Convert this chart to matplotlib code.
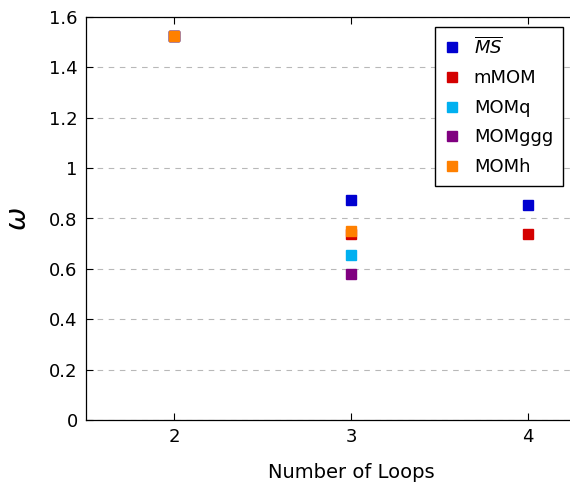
import numpy as np
import matplotlib
matplotlib.use("Agg")
import matplotlib.pyplot as plt

loops = [2, 3, 4]
series_names = [r'$\overline{MS}$', 'mMOM', 'MOMq', 'MOMggg', 'MOMh']
ms_vals = [1.525, 0.873, 0.855]
mmom_vals = [1.525, 0.737, 0.737]
momq_vals = [1.525, 0.655, np.nan]
momggg_vals = [1.525, 0.580, np.nan]
momh_vals = [1.525, 0.750, np.nan]
colors = ['#0000d0', '#d40000', '#00b0f0', '#800080', '#ff8000']

yticks = [0, 0.2, 0.4, 0.6, 0.8, 1.0, 1.2, 1.4, 1.6]
ytick_labels = ['0', '0.2', '0.4', '0.6', '0.8', '1', '1.2', '1.4', '1.6']
xticks = [2, 3, 4]

plt.rcParams['font.family'] = ['DejaVu Sans']
plt.rcParams['mathtext.fontset'] = 'dejavusans'

fig = plt.figure(figsize=(5.7, 4.86), dpi=100)
ax = fig.add_axes([86/570, 66/486, 530/570, 403/486])

all_vals = [ms_vals, mmom_vals, momq_vals, momggg_vals, momh_vals]
for name, vals, c in zip(series_names, all_vals, colors):
    ax.plot(loops, vals, linestyle='none', marker='s', markersize=7,
            color=c, markeredgecolor=c, label=name, zorder=3)

ax.set_xlim(1.5, 4.5)
ax.set_ylim(0, 1.6)
ax.set_yticks(yticks)
ax.set_yticklabels(ytick_labels)
ax.set_xticks(xticks)
ax.tick_params(direction='in', top=True, right=True, labelsize=13, length=5, width=0.8, pad=6)
ax.yaxis.grid(True, linestyle=(0, (5, 5)), color='#b8b8b8', linewidth=0.8)
ax.set_axisbelow(True)
for s in ax.spines.values():
    s.set_linewidth(0.9)

ax.set_xlabel('Number of Loops', fontsize=14, labelpad=12)
ax.set_ylabel(r'$\omega$', fontsize=20, labelpad=12)

leg = ax.legend(loc='upper right', bbox_to_anchor=(0.9, 0.975), borderaxespad=0,
                fancybox=False, edgecolor='black', fontsize=13, handlelength=0.8,
                handletextpad=0.8, labelspacing=0.64, borderpad=0.55, framealpha=1)
leg.get_frame().set_linewidth(1.0)

fig.savefig('out.png', dpi=100)
